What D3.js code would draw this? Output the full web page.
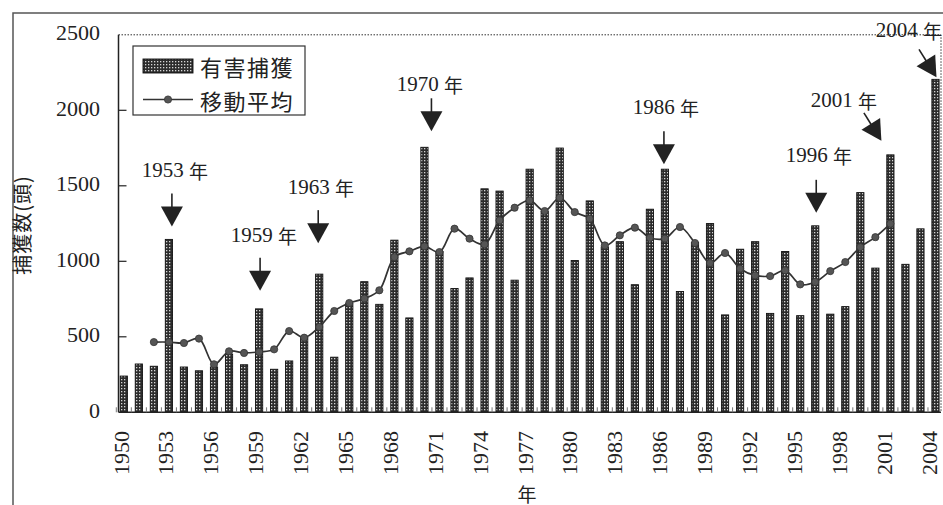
<!DOCTYPE html>
<html>
<head>
<meta charset="utf-8">
<script src="https://cdn.jsdelivr.net/npm/d3@7/dist/d3.min.js"></script>
<style>
  html, body { margin: 0; padding: 0; background: #ffffff; }
  svg { display: block; }
</style>
</head>
<body>
<svg id="chart" width="943" height="505"></svg>
<script>
// ---------------- DATA ----------------
const years = [1950,1951,1952,1953,1954,1955,1956,1957,1958,1959,
               1960,1961,1962,1963,1964,1965,1966,1967,1968,1969,
               1970,1971,1972,1973,1974,1975,1976,1977,1978,1979,
               1980,1981,1982,1983,1984,1985,1986,1987,1988,1989,
               1990,1991,1992,1993,1994,1995,1996,1997,1998,1999,
               2000,2001,2002,2003,2004];
// 有害捕獲 (bars)
const catches = [240,320,305,1145,300,275,300,385,315,685,
                 285,340,495,915,365,720,865,715,1140,625,
                 1755,1065,820,890,1480,1465,875,1610,1330,1750,
                 1005,1400,1095,1130,845,1345,1610,800,1125,1250,
                 645,1080,1130,655,1065,640,1235,650,700,1455,
                 955,1705,980,1215,2205];
// 移動平均 (line), years 1952–2001
const maYears = [1952,1953,1954,1955,1956,1957,1958,1959,1960,1961,
                 1962,1963,1964,1965,1966,1967,1968,1969,1970,1971,
                 1972,1973,1974,1975,1976,1977,1978,1979,1980,1981,
                 1982,1983,1984,1985,1986,1987,1988,1989,1990,1991,
                 1992,1993,1994,1995,1996,1997,1998,1999,2000,2001];
const movingAvg = [465,465,459,488,318,404,393,400,417,538,
                   494,565,671,724,753,808,1028,1066,1099,1061,
                   1216,1150,1112,1271,1355,1403,1333,1421,1326,1282,
                   1105,1172,1223,1156,1150,1227,1121,988,1055,951,
                   907,902,940,847,863,935,995,1094,1160,1249];
const yTicks = [0,500,1000,1500,2000,2500];
const xTickYears = [1950,1953,1956,1959,1962,1965,1968,1971,1974,1977,1980,1983,1986,1989,1992,1995,1998,2001,2004];
const annotatedYears = [1953,1959,1963,1970,1986,1996,2001,2004];
const legendLabels = ["有害捕獲", "移動平均"];
const yAxisTitle = "捕獲数(頭)";
const xAxisTitle = "年";
const yearSuffix = "年";

// ---------------- LAYOUT ----------------
const plot = { left: 118.5, right: 941, top: 34.8, bottom: 412.3 };
const serif = "'Liberation Serif','DejaVu Serif',serif";
const cjk = "'Noto Sans CJK JP','Noto Sans CJK SC',sans-serif";
const ink = "#222";

// annotation layout: arrow tip offset from bar top, x shift, rotation, text centre
const annLayout = {
  1953: { dx: 3,  gap: 13, rot: 0,   tx: 175, ty: 170 },
  1959: { dx: 1,  gap: 18, rot: 0,   tx: 264, ty: 235 },
  1963: { dx: -1, gap: 31, rot: 0,   tx: 321, ty: 187 },
  1970: { dx: 7,  gap: 16, rot: 0,   tx: 430, ty: 84 },
  1986: { dx: -1, gap: 5,  rot: 0,   tx: 666, ty: 107 },
  1996: { dx: 1,  gap: 13, rot: 0,   tx: 819, ty: 155 },
  2001: { dx: -9, gap: 14, rot: -32, tx: 844, ty: 100 },
  2004: { dx: 1,  gap: 2,  rot: -32, tx: 909, ty: 30 }
};

const svg = d3.select("#chart");

const x = d3.scaleBand()
  .domain(years)
  .range([116.3, 943])
  .paddingInner(0.52)
  .paddingOuter(0.26);
const cx = d => x(d) + x.bandwidth() / 2;

// tick labels sit on a slightly narrower spread than the bars
const xl = d3.scaleLinear().domain([1950, 2004]).range([121, 929]);

const y = d3.scaleLinear().domain([0, 2500]).range([plot.bottom, plot.top]);

// pattern for bars
const defs = svg.append("defs");
const pat = defs.append("pattern")
  .attr("id", "dots").attr("patternUnits", "userSpaceOnUse")
  .attr("width", 3).attr("height", 3);
pat.append("rect").attr("width", 3).attr("height", 3).attr("fill", "#2c2c2c");
pat.append("rect").attr("x", 1).attr("y", 1).attr("width", 1.3).attr("height", 1.3).attr("fill", "#d6d6d6");

// outer frame (top & left)
svg.append("path")
  .attr("d", "M13,505 L13,13 L943,13")
  .attr("fill", "none").attr("stroke", "#555").attr("stroke-width", 1.5);

// dotted plot border (top & right)
svg.append("path")
  .attr("d", `M${plot.left},${plot.top} L${plot.right},${plot.top} L${plot.right},${plot.bottom}`)
  .attr("fill", "none").attr("stroke", "#333").attr("stroke-width", 1)
  .attr("stroke-dasharray", "1.5,1.5");

// bars
svg.append("g").selectAll("rect")
  .data(years)
  .join("rect")
  .attr("x", d => x(d))
  .attr("width", x.bandwidth())
  .attr("y", (d, i) => y(catches[i]))
  .attr("height", (d, i) => y(0) - y(catches[i]))
  .attr("fill", "url(#dots)")
  .attr("stroke", "#111")
  .attr("stroke-width", 0.9);

// x axis line + small inward ticks
const xb = svg.append("g");
xb.append("line")
  .attr("x1", plot.left).attr("x2", plot.right)
  .attr("y1", plot.bottom).attr("y2", plot.bottom)
  .attr("stroke", "#222").attr("stroke-width", 1.5);
xb.selectAll("line.mt")
  .data(years)
  .join("line")
  .attr("class", "mt")
  .attr("x1", d => x(d) - x.step() * 0.26)
  .attr("x2", d => x(d) - x.step() * 0.26)
  .attr("y1", plot.bottom).attr("y2", plot.bottom - 5)
  .attr("stroke", "#777").attr("stroke-width", 1);

// y axis
const ya = svg.append("g");
ya.append("line")
  .attr("x1", plot.left).attr("x2", plot.left)
  .attr("y1", plot.top).attr("y2", plot.bottom)
  .attr("stroke", "#222").attr("stroke-width", 1.5);
ya.selectAll("line.t")
  .data(yTicks.filter(v => v > 0 && v < 2500))
  .join("line").attr("class", "t")
  .attr("x1", plot.left).attr("x2", plot.left + 8)
  .attr("y1", d => y(d)).attr("y2", d => y(d))
  .attr("stroke", "#222").attr("stroke-width", 1.2);
ya.selectAll("text")
  .data(yTicks)
  .join("text")
  .attr("x", 100).attr("y", d => y(d) - 2)
  .attr("text-anchor", "end").attr("dominant-baseline", "central")
  .attr("font-family", serif).attr("font-size", 22).attr("fill", ink)
  .text(d => d);

// x tick labels (rotated)
svg.append("g").selectAll("text")
  .data(xTickYears)
  .join("text")
  .attr("transform", d => `translate(${xl(d)},431) rotate(-90)`)
  .attr("text-anchor", "end").attr("dominant-baseline", "central")
  .attr("font-family", serif).attr("font-size", 22).attr("fill", ink)
  .text(d => d);

// axis titles
svg.append("text")
  .attr("x", 527).attr("y", 493)
  .attr("text-anchor", "middle").attr("dominant-baseline", "central")
  .attr("font-family", cjk).attr("font-size", 19).attr("fill", ink)
  .text(xAxisTitle);
svg.append("text")
  .attr("transform", "translate(21,225) rotate(-90)")
  .attr("text-anchor", "middle").attr("dominant-baseline", "central")
  .attr("font-family", cjk).attr("font-size", 20).attr("letter-spacing", 1).attr("fill", ink)
  .text(yAxisTitle);

// moving average line
const maPts = maYears.map((yr, i) => [cx(yr), y(movingAvg[i])]);
svg.append("path")
  .attr("d", d3.line().curve(d3.curveCatmullRom.alpha(0.5))(maPts))
  .attr("fill", "none").attr("stroke", "#333").attr("stroke-width", 1.7);
svg.append("g").selectAll("circle")
  .data(maPts)
  .join("circle")
  .attr("cx", d => d[0]).attr("cy", d => d[1]).attr("r", 3.6)
  .attr("fill", "#555").attr("stroke", "#333").attr("stroke-width", 0.8);

// annotations
const ann = svg.append("g");
annotatedYears.forEach(yr => {
  const L = annLayout[yr];
  const v = catches[years.indexOf(yr)];
  const tipX = cx(yr) + L.dx, tipY = y(v) - L.gap;
  const g = ann.append("g").attr("transform", `translate(${tipX},${tipY}) rotate(${L.rot})`);
  g.append("line").attr("x1", 0).attr("x2", 0).attr("y1", -33).attr("y2", -19)
    .attr("stroke", "#222").attr("stroke-width", 1.6);
  g.append("path").attr("d", "M-11,-20 L11,-20 L0,0 Z").attr("fill", "#222");
  const t = ann.append("text")
    .attr("x", L.tx).attr("y", L.ty)
    .attr("text-anchor", "middle").attr("dominant-baseline", "central")
    .attr("fill", ink);
  t.append("tspan").attr("font-family", serif).attr("font-size", 21).text(yr + " ");
  t.append("tspan").attr("font-family", cjk).attr("font-size", 19).text(yearSuffix);
});

// legend
const lg = svg.append("g");
lg.append("rect").attr("x", 133).attr("y", 46).attr("width", 172).attr("height", 69)
  .attr("fill", "#fff").attr("stroke", "#333").attr("stroke-width", 1.2);
lg.append("rect").attr("x", 143).attr("y", 59).attr("width", 50).attr("height", 14)
  .attr("fill", "url(#dots)").attr("stroke", "#111").attr("stroke-width", 0.9);
lg.append("line").attr("x1", 143).attr("x2", 193).attr("y1", 99.5).attr("y2", 99.5)
  .attr("stroke", "#333").attr("stroke-width", 1.6);
lg.append("circle").attr("cx", 168).attr("cy", 99.5).attr("r", 3.6)
  .attr("fill", "#555").attr("stroke", "#333").attr("stroke-width", 0.8);
lg.selectAll("text.lt")
  .data(legendLabels)
  .join("text").attr("class", "lt")
  .attr("x", 200).attr("y", (d, i) => 66 + i * 33.5)
  .attr("dominant-baseline", "central")
  .attr("font-family", cjk).attr("font-size", 22).attr("letter-spacing", 1.5)
  .attr("fill", ink)
  .text(d => d);
</script>
</body>
</html>
